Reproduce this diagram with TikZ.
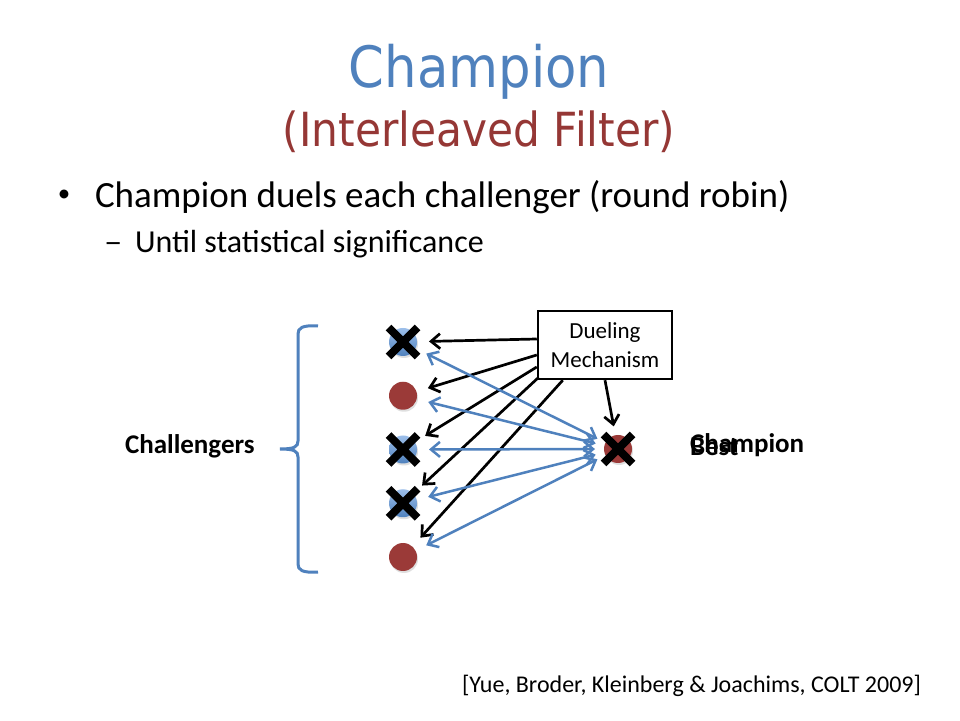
\documentclass[tikz,border=0pt]{standalone}
\usepackage{fontspec}
\setmainfont{Carlito}
\newfontfamily\titlefont[FakeStretch=0.9]{DejaVu Sans}
\usetikzlibrary{arrows.meta,shapes.misc,shadows}
\definecolor{ttlblue}{HTML}{4F81BD}
\definecolor{ttlred}{HTML}{953735}
\definecolor{dotred}{HTML}{9B3A38}
\definecolor{dotblueA}{HTML}{9DBFEA}
\definecolor{dotblueB}{HTML}{4F81BD}
\definecolor{linkblue}{HTML}{4F81BD}
\begin{document}
\begin{tikzpicture}[x=1pt,y=1pt,
  txt/.style={inner sep=0pt, outer sep=0pt},
  dot/.style={circle, minimum size=28pt, inner sep=0pt, outer sep=12pt,
    drop shadow={shadow xshift=1pt, shadow yshift=-2pt, opacity=0.25}},
  reddot/.style={dot, fill=dotred},
  bluedot/.style={dot, top color=dotblueA, bottom color=dotblueB},
  xmark/.style={cross out, draw=black, line width=8pt, minimum size=21pt, inner sep=0pt},
  duel/.style={-{Straight Barb[length=9pt,width=15pt]}, line width=2.7pt, black},
  link/.style={{Straight Barb[length=9pt,width=15pt]}-{Straight Barb[length=9pt,width=15pt]}, line width=2.5pt, linkblue},
  brace/.style={linkblue, line width=3pt}
]
\fill[white] (0,0) rectangle (960,720);
\useasboundingbox (0,0) rectangle (960,720);

% titles
\node[txt, anchor=base, text=ttlblue, font=\titlefont\fontsize{57}{68}\selectfont] (title) at (479,632) {Champion};
\node[txt, anchor=base, text=ttlred, font=\titlefont\fontsize{47}{56}\selectfont] (subtitle) at (479,573) {(Interleaved Filter)};

% bullets
\node[txt, anchor=base, font=\fontsize{25}{30}\selectfont] (bul) at (64,518) {•};
\node[txt, anchor=base west, font=\fontsize{37}{44}\selectfont] (line1) at (95,512) {Champion duels each challenger (round robin)};
\node[txt, anchor=base west, font=\fontsize{32}{38}\selectfont] (dash) at (104,467) {\scalebox{1.15}[1]{–}};
\node[txt, anchor=base west, font=\fontsize{32}{38}\selectfont] (line2) at (135,467) {Until statistical significance};

% challengers and champion
\node[bluedot] (c1) at (403,378) {};
\node[reddot]  (c2) at (403,324.25) {};
\node[bluedot] (c3) at (403,270.5) {};
\node[bluedot] (c4) at (403,216.75) {};
\node[reddot]  (c5) at (403,163) {};
\node[reddot, outer sep=9pt] (ch) at (618,271) {};

% dueling mechanism box
\node[draw, line width=2.5pt, fill=white, minimum width=134pt, minimum height=68pt,
      inner sep=0pt, align=center, font=\fontsize{23}{29}\selectfont] (box) at (605,375) {Dueling\\Mechanism};

% black arrows from the box
\draw[duel] ([yshift=6pt]box.west) -- (c1);
\draw[duel] ([yshift=-10pt]box.west) -- (c2);
\draw[duel] ([yshift=-22pt]box.west) -- (c3);
\draw[duel] ([shift={(2pt,3pt)}]box.south west) -- (c4);
\draw[duel] ([xshift=26pt]box.south west) -- (c5);
\draw[duel] (box.south) -- (ch);

% blue duels
\draw[link] (ch) -- (c1);
\draw[link] (ch) -- (c2);
\draw[link] (ch) -- (c3);
\draw[link] (ch) -- (c4);
\draw[link] (ch) -- (c5);

% crosses
\node[xmark] (x1) at (c1.center) {};
\node[xmark] (x3) at (c3.center) {};
\node[xmark] (x4) at (c4.center) {};
\node[xmark] (xch) at (ch.center) {};

% brace
\draw[brace] (318,394) .. controls (302,395) and (298,392) .. (298,386) -- (298,279)
  .. controls (298,273) and (294,271) .. (280,271)
  .. controls (294,271) and (298,269) .. (298,263) -- (298,156)
  .. controls (298,150) and (302,147) .. (318,148);

% labels
\node[txt, anchor=base west, font=\bfseries\fontsize{27}{32}\selectfont] (chl) at (125,266) {Challengers};
\node[txt, anchor=base west, font=\bfseries\fontsize{27}{32}\selectfont] (chmp) at (690,267) {Champion};
\node[txt, anchor=base west, font=\bfseries\fontsize{27}{32}\selectfont] (best) at (690,264.5) {Best};

% citation
\node[txt, anchor=base west, font=\fontsize{24}{29}\selectfont] (cite) at (462,28) {[Yue, Broder, Kleinberg \& Joachims, COLT 2009]};
\end{tikzpicture}
\end{document}
